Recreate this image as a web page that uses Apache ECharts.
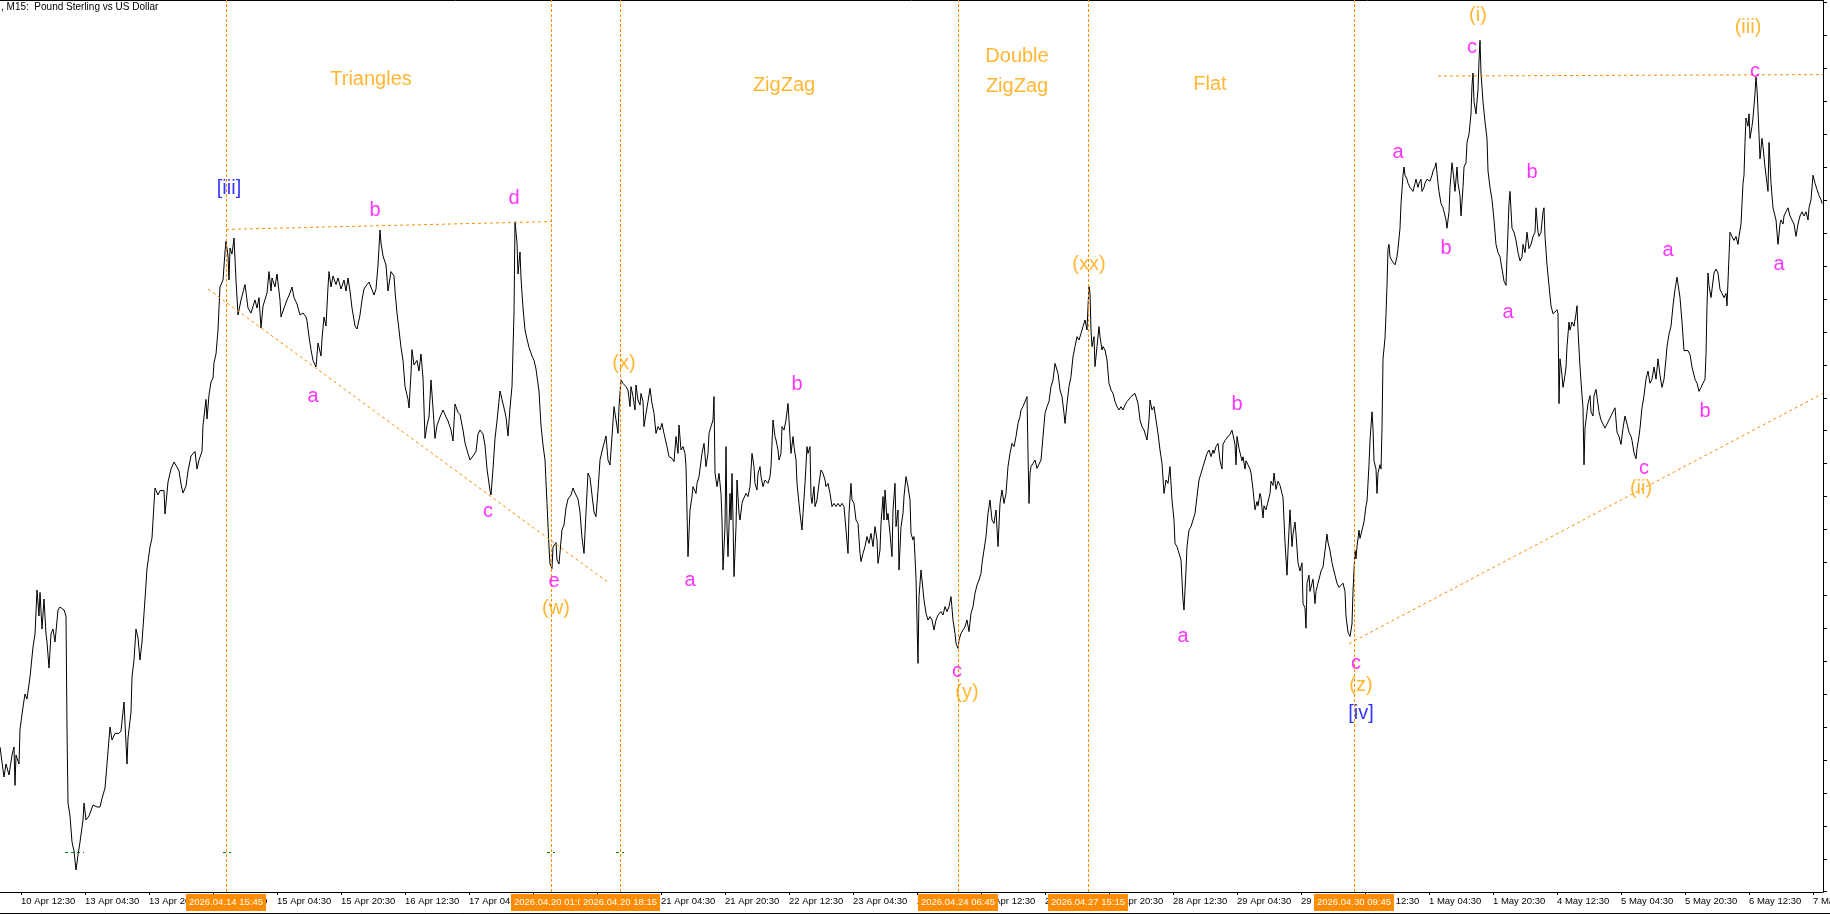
<!DOCTYPE html>
<html>
<head>
<meta charset="utf-8">
<title>GBPUSD M15</title>
<script src="https://cdn.jsdelivr.net/npm/echarts@6.0.0/dist/echarts.min.js"></script>
<style>
  html, body { margin: 0; padding: 0; background: #fff; }
  #chart { width: 1830px; height: 915px; }
</style>
</head>
<body>
<div id="chart"></div>
<script>
// M15 closes, x = bar number from the left edge of the window
const triangleLeg = [
  [0,1.33265],[4,1.33115],[6,1.3318],[9,1.33125],[12,1.33225],[14,1.33265],[15,1.33073],[16,1.33225],[19,1.3318],[20,1.33355],
  [23,1.33465],[25,1.3353],[27,1.33505],[30,1.33615],[33,1.33765],[35,1.3383],[37,1.3405],[39,1.3392],[40,1.34038],[42,1.33855],
  [44,1.34005],[46,1.3383],[47,1.3379],[49,1.3366],[51,1.3383],[53,1.33855],[55,1.3379],[58,1.3395],[60,1.33965],[64,1.3395],
  [66,1.3392],[67,1.33355],[68,1.32985],[70,1.3292],[72,1.3279],[74,1.32745],[76,1.3265],[78,1.32725],[80,1.3279],[83,1.329],
  [84,1.32985],[86,1.329],[89,1.3292],[91,1.3293],[93,1.32975],[97,1.32965],[100,1.32965],[102,1.33008],[105,1.3306],[107,1.3318],
  [110,1.33365],[112,1.333],[115,1.33333],[119,1.33333],[121,1.33345],[124,1.3349],[127,1.3318],[128,1.3331],[131,1.3344],[132,1.33615],
  [134,1.337],[136,1.33855],[138,1.3381],[140,1.337],[142,1.3379],[145,1.34005],[147,1.34157],[150,1.34265],[152,1.3431],[154,1.34482],
  [155,1.3456],[158,1.34525],[160,1.34547],[164,1.34547],[165,1.3443],[168,1.3459],[171,1.34655],[174,1.3469],[177,1.34665],[179,1.34645],
  [181,1.3458],[183,1.34535],[186,1.3457],[188,1.34645],[191,1.3472],[193,1.3473],[195,1.34743],[197,1.34655],[199,1.347],[202,1.34743],
  [203,1.34873],[206,1.35003],[207,1.34905],[209,1.35025],[211,1.3509],[213,1.3511],[214,1.35187],[216,1.3523],[218,1.3535],[219,1.3546],
  [220,1.35565],[223,1.356],[224,1.3559],[225,1.3574],[226,1.35795],[228,1.3572],[229,1.356],[230,1.3576],[232,1.3573],[234,1.3581],
  [236,1.356],[238,1.35425],[241,1.355],[245,1.35577],[248,1.3546],[251,1.35435],[255,1.355],[257,1.3546],[259,1.35512],[261,1.3536],
  [263,1.3547],[267,1.35535],[269,1.35642],[271,1.35545],[272,1.3561],[275,1.35565],[277,1.3563],[280,1.355],[281,1.35415],[284,1.3546],
  [287,1.355],[290,1.35535],[292,1.35565],[294,1.35512],[297,1.3548],[300,1.35425],[303,1.35435],[306,1.35415],[307,1.35395],[309,1.35317],
  [311,1.35252],[313,1.35198],[316,1.35165],[318,1.35285],[321,1.3522],[322,1.35305],[324,1.35415],[326,1.3537],[328,1.35565],[329,1.35642],
  [331,1.35565],[333,1.3562],[336,1.35577],[338,1.3561],[341,1.35555],[344,1.356],[346,1.35545],[348,1.3561],[350,1.35545],[352,1.3546],
  [355,1.3537],[357,1.35355],[360,1.35425],[362,1.355],[364,1.35555],[367,1.35577],[369,1.3559],[371,1.356],[374,1.35525],[376,1.35555],
  [378,1.35675],[380,1.3585],[381,1.35785],[383,1.3572],[386,1.35675],[388,1.35545],[391,1.35642],[394,1.3562],[395,1.35545],[397,1.35435],
  [399,1.3535],[401,1.35263],[403,1.35198],[405,1.35068],[408,1.35003],[409,1.3496],[411,1.35133],[412,1.35252],[414,1.35175],[417,1.35198],
  [419,1.35145],[421,1.3523],[423,1.3511],[425,1.34808],[427,1.34873],[429,1.34915],[431,1.351],[433,1.3496],[435,1.34808],[437,1.34873],
  [440,1.34915],[443,1.3495],[446,1.34915],[448,1.34895],[451,1.3485],[453,1.34795],[455,1.3498],[458,1.34938],[460,1.34927],[463,1.3485],
  [465,1.34785],[468,1.34732],[470,1.347],[473,1.3472],[476,1.34743],[478,1.3483],[480,1.3485],[483,1.3483],[485,1.34775],[487,1.34655],
  [490,1.34547],[491,1.34525],[493,1.34655],[495,1.34808],[497,1.34895],[500,1.35045],[502,1.35003],[504,1.3496],[506,1.34915],[508,1.3482],
  [510,1.3496],[512,1.35068],[514,1.35435],[515,1.35892],[517,1.35785],[518,1.3563],[520,1.3574],[521,1.3561],[523,1.3546],[525,1.3535],
  [527,1.35305],[529,1.35263],[532,1.3522],[534,1.35198],[536,1.35155],[539,1.35045],[541,1.34873],[543,1.34775],[545,1.347],[547,1.34482],
  [549,1.34265],[550,1.3418],[552,1.34157],[553,1.34265],[556,1.34287],[557,1.342],[559,1.3418],[562,1.34352],[564,1.34375],[566,1.3446],
  [568,1.34505],[571,1.34525],[573,1.3456],[575,1.34535],[578,1.34505],[580,1.3444],[582,1.3431],[584,1.34233],[586,1.3444],[588,1.34635],
  [590,1.34612],[592,1.34525],[594,1.3444],[596,1.34417],[598,1.34547],[600,1.347],[603,1.34765],[606,1.3482],[608,1.347]
];

const zigzagLeg = [
  [610,1.34675],[612,1.34817],[614,1.34967],[616,1.349],[618,1.34833],[619,1.34967],[621,1.351],[623,1.35083],[626,1.35067],[628,1.3505],
  [630,1.34967],[631,1.35067],[633,1.35017],[635,1.3495],[636,1.35075],[638,1.35],[640,1.34975],[641,1.35033],[643,1.34992],[644,1.34867],
  [646,1.34933],[648,1.34992],[650,1.35058],[652,1.34983],[654,1.34933],[656,1.34833],[658,1.34867],[660,1.3485],[662,1.34883],[664,1.34833],
  [667,1.34767],[669,1.34717],[672,1.34708],[674,1.34692],[676,1.34817],[678,1.34733],[679,1.34875],[681,1.3475],[683,1.34767],[685,1.34733],
  [686,1.34667],[688,1.34217],[690,1.3445],[692,1.34517],[693,1.34567],[696,1.34533],[697,1.34583],[699,1.34617],[702,1.34733],[704,1.34783],
  [706,1.34667],[708,1.34733],[709,1.34833],[711,1.34867],[713,1.349],[714,1.35017],[715,1.34633],[717,1.34567],[719,1.34633],[721,1.34533],
  [722,1.344],[723,1.3415],[725,1.34367],[726,1.34767],[727,1.34367],[728,1.34217],[730,1.34533],[731,1.344],[732,1.34633],[733,1.344],
  [734,1.34117],[736,1.34367],[737,1.346],[739,1.34433],[740,1.344],[742,1.34483],[743,1.345],[746,1.34533],[748,1.34517],[750,1.34567],
  [752,1.34733],[754,1.34667],[755,1.34583],[757,1.3455],[758,1.34633],[760,1.34667],[761,1.34617],[763,1.34567],[765,1.346],[768,1.34583],
  [770,1.34617],[771,1.34667],[773,1.349],[775,1.34817],[776,1.348],[778,1.3475],[779,1.347],[781,1.34733],[782,1.34867],[784,1.3485],
  [786,1.349],[788,1.34983],[789,1.349],[791,1.34733],[793,1.34817],[794,1.34767],[796,1.347],[797,1.34583],[799,1.34483],[800,1.34433],
  [802,1.3435],[803,1.34433],[805,1.34583],[807,1.34767],[808,1.34733],[810,1.34767],[811,1.34517],[812,1.34483],[814,1.34567],[815,1.34467],
  [817,1.345],[819,1.34583],[821,1.3465],[823,1.34633],[825,1.346],[826,1.34567],[828,1.34583],[830,1.34533],[832,1.34467],[834,1.34483],
  [836,1.34467],[838,1.34483],[840,1.34467],[842,1.34483],[844,1.34467],[846,1.34475],[848,1.34233],[849,1.34433],[851,1.34583],[852,1.345],
  [854,1.34483],[856,1.344],[858,1.34383],[860,1.34233],[861,1.34192],[863,1.34233],[865,1.34267],[867,1.34317],[869,1.34283],[871,1.34333],
  [873,1.34267],[875,1.34367],[877,1.343],[878,1.34183],[880,1.3425],[881,1.34383],[883,1.34517],[884,1.344],[885,1.3455],[887,1.344],
  [888,1.34433],[890,1.34333],[892,1.34217],[893,1.3445],[895,1.34583],[896,1.34367],[898,1.3445],[899,1.3415],[901,1.34367],[903,1.34433],
  [904,1.34517],[906,1.34617],[908,1.34567],[910,1.345],[911,1.34333],[913,1.343],[914,1.34317],[916,1.34108],[918,1.33683],[919,1.34017],
  [921,1.3415],[922,1.341],[924,1.34],[926,1.33933],[928,1.339],[930,1.33917],[932,1.339],[934,1.3385],[936,1.339],[938,1.33925],
  [940,1.33917],[941,1.33942],[943,1.33925],[945,1.33967],[947,1.33942],[949,1.33967],[951,1.34017],[953,1.339],[955,1.33833],[956,1.33783],
  [958,1.33758],[959,1.338],[961,1.33833],[963,1.3385],[965,1.33867],[967,1.339],[969,1.33842],[971,1.33933],[973,1.33967],[975,1.34033],
  [977,1.34075],[979,1.341],[981,1.34133],[982,1.34183],[984,1.3425],[986,1.34317],[988,1.34433],[990,1.345],[992,1.344],[994,1.34383],
  [996,1.3445],[998,1.34267],[1000,1.34483],[1002,1.3455],[1004,1.34483],[1006,1.34533],[1008,1.34667],[1010,1.34733],[1012,1.34783],[1014,1.34767],
  [1016,1.34817],[1018,1.34883],[1020,1.34917],[1021,1.3495],[1023,1.34967],[1025,1.34992],[1027,1.35017],[1028,1.34733],[1029,1.34483],[1030,1.34633],
  [1031,1.34667],[1033,1.34683],[1035,1.347],[1037,1.34658],[1039,1.34667],[1041,1.347],[1043,1.34817],[1045,1.34933],[1047,1.34967],[1049,1.34992],
  [1051,1.35067],[1053,1.351],[1055,1.35183],[1057,1.3515],[1058,1.35133],[1060,1.3505],[1062,1.35017],[1064,1.34933],[1065,1.34883],[1067,1.34983],
  [1069,1.35067],[1071,1.35117],[1073,1.35217],[1075,1.35267],[1077,1.35317],[1079,1.353],[1081,1.35333],[1083,1.35367],[1085,1.354],[1087,1.3535],
  [1088,1.35467],[1089,1.35567],[1090,1.35533],[1091,1.3535],[1092,1.35267],[1094,1.35317],[1095,1.35167],[1097,1.35267],[1099,1.35367],[1100,1.35317],
  [1102,1.3525],[1103,1.35267],[1105,1.3525],[1107,1.352],[1109,1.35083],[1111,1.3505],[1113,1.35033],[1115,1.34992],[1117,1.34967],[1119,1.3495],
  [1121,1.34967],[1123,1.3495],[1125,1.34975],[1127,1.34992],[1129,1.35],[1131,1.35017],[1133,1.35008],[1135,1.35033],[1137,1.35042],[1138,1.34983],
  [1140,1.349],[1142,1.34867],[1144,1.3485],[1146,1.34817],[1147,1.348],[1149,1.349],[1150,1.35],[1152,1.3495],[1154,1.34967],[1156,1.349],
  [1158,1.34833],[1160,1.3475],[1162,1.34683],[1164,1.34533],[1166,1.346],[1168,1.34583],[1170,1.34667],[1172,1.345],[1174,1.344],[1175,1.34283],
  [1177,1.34267],[1179,1.34233],[1181,1.342],[1183,1.34],[1184,1.3395],[1186,1.3415],[1187,1.34267],[1189,1.3435],[1191,1.34367],[1193,1.344],
  [1195,1.34433],[1197,1.34517],[1199,1.346],[1201,1.34633],[1203,1.34667],[1205,1.34667],[1207,1.34733],[1209,1.3475],[1211,1.34717],[1213,1.3475],
  [1214,1.34733],[1216,1.34767],[1218,1.34783]
];

const impulseLeg = [
  [1220,1.34696],[1222,1.34655],[1223,1.34778],[1225,1.34798],[1227,1.34808],[1230,1.34829],[1232,1.34849],[1234,1.34839],[1235,1.34778],[1236,1.34676],
  [1237,1.34818],[1239,1.34757],[1240,1.34737],[1242,1.34696],[1243,1.34716],[1245,1.34655],[1246,1.34696],[1248,1.34676],[1250,1.34655],[1251,1.34635],
  [1253,1.34553],[1255,1.34451],[1257,1.34492],[1258,1.34471],[1260,1.34533],[1261,1.34512],[1263,1.3441],[1264,1.34471],[1266,1.34451],[1268,1.34461],
  [1270,1.34533],[1271,1.34594],[1273,1.34573],[1274,1.34635],[1276,1.34553],[1278,1.34594],[1280,1.34573],[1282,1.34533],[1283,1.34512],[1285,1.34288],
  [1287,1.34124],[1288,1.34247],[1290,1.34451],[1292,1.34267],[1293,1.34329],[1295,1.3439],[1296,1.34329],[1298,1.34186],[1300,1.34145],[1302,1.34186],
  [1303,1.33982],[1305,1.33961],[1306,1.33859],[1307,1.34084],[1309,1.34124],[1310,1.34043],[1312,1.34084],[1313,1.34104],[1315,1.33982],[1316,1.34043],
  [1318,1.34084],[1320,1.34124],[1321,1.34145],[1323,1.34165],[1325,1.34247],[1327,1.34329],[1328,1.34288],[1330,1.34247],[1332,1.34186],[1333,1.34165],
  [1335,1.34124],[1337,1.34084],[1339,1.34063],[1341,1.34063],[1343,1.34084],[1345,1.34043],[1346,1.3392],[1348,1.33839],[1350,1.33818],[1352,1.3388],
  [1353,1.34043],[1355,1.34247],[1356,1.34206],[1357,1.34267],[1359,1.34349],[1360,1.34308],[1362,1.34349],[1364,1.3439],[1366,1.34471],[1367,1.34492],
  [1369,1.34676],[1370,1.34798],[1372,1.34941],[1373,1.34859],[1374,1.34696],[1376,1.34655],[1377,1.34533],[1378,1.34635],[1380,1.34676],[1381,1.34655],
  [1382,1.34859],[1383,1.35206],[1385,1.35308],[1386,1.35431],[1387,1.35573],[1388,1.35757],[1389,1.35778],[1390,1.35716],[1392,1.35696],[1394,1.35696],
  [1395,1.35676],[1397,1.35716],[1398,1.35757],[1400,1.35859],[1401,1.35982],[1403,1.36124],[1404,1.36165],[1405,1.36124],[1407,1.36104],[1408,1.36084],
  [1410,1.36063],[1411,1.36063],[1413,1.36043],[1415,1.36084],[1416,1.36104],[1418,1.36063],[1419,1.36084],[1421,1.36104],[1422,1.36043],[1424,1.36063],
  [1425,1.36084],[1427,1.36104],[1429,1.36114],[1430,1.36094],[1432,1.36124],[1433,1.36145],[1435,1.36165],[1436,1.36186],[1438,1.36084],[1439,1.36043],
  [1441,1.35982],[1443,1.35961],[1444,1.35941],[1446,1.359],[1447,1.35859],[1449,1.35941],[1450,1.36063],[1452,1.36186],[1453,1.36145],[1455,1.36043],
  [1457,1.36165],[1458,1.36084],[1460,1.36022],[1461,1.3592],[1463,1.36063],[1464,1.36165],[1466,1.36186],[1467,1.36288],[1469,1.36329],[1471,1.36431],
  [1472,1.36573],[1473,1.36635],[1474,1.36492],[1476,1.36431],[1478,1.36553],[1479,1.36696],[1480,1.36798],[1481,1.36635],[1483,1.36492],[1485,1.3639],
  [1487,1.36308],[1488,1.36145],[1490,1.36063],[1492,1.36002],[1494,1.359],[1496,1.35778],[1498,1.35737],[1500,1.35716],[1502,1.35655],[1504,1.35594],
  [1506,1.35573],[1507,1.35716],[1509,1.35982],[1510,1.36043],[1512,1.35859],[1514,1.35839],[1516,1.35798],[1518,1.35737],[1520,1.35696],[1522,1.35716],
  [1523,1.35778],[1525,1.35737],[1527,1.35839],[1529,1.35757],[1531,1.35778],[1533,1.35818],[1535,1.35839],[1536,1.35961],[1538,1.35839],[1539,1.35818],
  [1541,1.35839],[1543,1.35941],[1544,1.35961],[1545,1.35818],[1547,1.35676],[1549,1.35573],[1551,1.35471],[1553,1.35431],[1555,1.35431],[1557,1.35451],
  [1558,1.35431],[1559,1.34982],[1560,1.35206],[1562,1.35124],[1563,1.35063],[1565,1.35124],[1566,1.35165],[1567,1.35267],[1569,1.3539],[1570,1.35349],
  [1572,1.3539],[1574,1.35369],[1576,1.35431],[1577,1.35471],[1578,1.35349],[1580,1.35165],[1582,1.35022],[1583,1.34961],[1584,1.34676],[1585,1.34859],
  [1587,1.34941],[1588,1.34982],[1590,1.35022],[1591,1.34941],[1593,1.3492],[1594,1.35022],[1596,1.35053],[1597,1.35043],[1599,1.34941],[1601,1.349],
  [1603,1.3488],[1605,1.34859],[1607,1.3488],[1609,1.349],[1611,1.3492],[1613,1.34941],[1615,1.34961],[1617,1.34839],[1619,1.34818],[1621,1.34778],
  [1623,1.34859],[1625,1.3492],[1627,1.3488],[1629,1.34839],[1631,1.34818],[1632,1.34798],[1634,1.34737],[1636,1.34706],[1637,1.34757],[1639,1.34818],
  [1640,1.34859],[1642,1.34961],[1644,1.35022],[1646,1.35104],[1648,1.35145],[1650,1.35084],[1652,1.35104],[1654,1.35165],[1656,1.35104],[1658,1.35206],
  [1660,1.35124],[1662,1.35063],[1664,1.35104],[1666,1.35206],[1667,1.35267],[1669,1.35329],[1671,1.35369],[1673,1.35471],[1675,1.35553],[1677,1.35614],
  [1678,1.35624],[1680,1.35512],[1682,1.3539],[1684,1.35247],[1686,1.35237],[1688,1.35247],[1690,1.35227],[1692,1.35165],[1694,1.35124],[1695,1.35104],
  [1697,1.35084],[1699,1.35043],[1701,1.35063],[1703,1.35084],[1705,1.35104],[1706,1.35227],[1707,1.35471],[1708,1.35635],[1709,1.35573],[1711,1.35512],
  [1713,1.35512],[1714,1.35635],[1716,1.35655],[1718,1.35635],[1720,1.35553],[1722,1.35533],[1724,1.35512],[1726,1.35533],[1727,1.35471],[1728,1.35594],
  [1730,1.35839],[1732,1.35818],[1734,1.35798],[1736,1.35818],[1738,1.35778],[1739,1.35818],[1741,1.3588],[1742,1.35982],[1743,1.36084],[1744,1.36124],
  [1745,1.36288],[1746,1.3641],[1748,1.36369],[1749,1.36431],[1750,1.36308],[1752,1.36369],[1753,1.3641],[1755,1.36533],[1756,1.36614],[1757,1.36553],
  [1758,1.36451],[1759,1.36329],[1760,1.36206],[1762,1.36308],[1763,1.36267],[1765,1.36165],[1766,1.36124],[1768,1.36043],[1769,1.36288],[1771,1.36084],
  [1772,1.36022],[1773,1.35961],[1774,1.35941],[1776,1.359],[1778,1.35778],[1780,1.3588],[1781,1.359],[1783,1.3588],[1784,1.3592],[1786,1.35941],
  [1788,1.35961],[1790,1.3592],[1792,1.359],[1794,1.3588],[1796,1.35818],[1798,1.3588],[1800,1.3592],[1802,1.35941],[1804,1.3592],[1806,1.35941],
  [1808,1.359],[1809,1.35961],[1811,1.36002],[1813,1.36124],[1815,1.36084],[1817,1.36084],[1819,1.36022],[1821,1.36002],[1822,1.35982]
];

// time scale
const timeTickBars = [21,85,149,213,277,341,405,469,533,597,661,725,789,853,917,981,1045,1109,1173,1237,1301,1365,1429,1493,1557,1621,1685,1749,1813];
const timeTickLabels = ['10 Apr 12:30','13 Apr 04:30','13 Apr 20:30','14 Apr 12:30','15 Apr 04:30','15 Apr 20:30','16 Apr 12:30','17 Apr 04:30',
  '17 Apr 20:30','20 Apr 12:30','21 Apr 04:30','21 Apr 20:30','22 Apr 12:30','23 Apr 04:30','23 Apr 20:30','24 Apr 12:30','27 Apr 04:30',
  '27 Apr 20:30','28 Apr 12:30','29 Apr 04:30','29 Apr 20:30','30 Apr 12:30','1 May 04:30','1 May 20:30','4 May 12:30','5 May 04:30',
  '5 May 20:30','6 May 12:30','7 May 04:30'];
const markerBars = [226,551,620,958,1088,1354];
const markerTimes = ['2026.04.14 15:45','2026.04.20 01:00','2026.04.20 18:15','2026.04.24 06:45','2026.04.27 15:15','2026.04.30 09:45'];
// price scale ticks (labels are cut off in the window)
const priceTicks = [1.36987,1.36822,1.36658,1.36493,1.36328,1.36164,1.35999,1.35834,1.3567,1.35505,1.35341,1.35176,1.35011,1.34847,
  1.34682,1.34517,1.34353,1.34188,1.34023,1.33859,1.33694,1.33529,1.33365,1.332,1.33035,1.32871,1.32706,1.32542];

// drawn lines [start, end] as [bar, price]
const trendLines = [
  [[226,1.35853],[551,1.35892]],
  [[208,1.35555],[607,1.34092]],
  [[1438,1.3662],[1823,1.36627]],
  [[1349,1.33782],[1823,1.35033]]
];
const greenMarks = [
  [[65,1.3274],[84,1.3274]],
  [[223,1.3274],[231,1.3274]],
  [[547,1.3274],[555,1.3274]],
  [[616,1.3274],[624,1.3274]]
];

// wave labels [bar, price, text]
const minorLabels = [
  [375,1.3595,'b'],[514,1.3601,'d'],[313,1.3502,'a'],[488,1.34445,'c'],[554,1.34095,'e'],
  [690,1.341,'a'],[797,1.3508,'b'],[957,1.33645,'c'],
  [1183,1.3382,'a'],[1237,1.3498,'b'],[1356,1.33685,'c'],
  [1398,1.3624,'a'],[1446,1.3576,'b'],[1472,1.36765,'c'],
  [1508,1.3544,'a'],[1532,1.3614,'b'],[1644,1.3466,'c'],
  [1668,1.3575,'a'],[1705,1.34945,'b'],[1755,1.36645,'c'],[1779,1.3568,'a']
];
const minuteLabels = [
  [556,1.3396,'(w)'],[624,1.35185,'(x)'],[967,1.3354,'(y)'],[1089,1.3568,'(xx)'],[1361,1.33575,'(z)'],
  [1478,1.36925,'(i)'],[1641,1.3456,'(ii)'],[1748,1.36865,'(iii)']
];
const minorDegreeLabels = [[229,1.3606,'[iii]'],[1361,1.33435,'[iv]']];
const patternNames = [
  [371,1.36605,'Triangles'],[784,1.36575,'ZigZag'],[1017,1.3672,'Double'],[1017,1.3657,'ZigZag'],[1210,1.3658,'Flat']
];

const ORANGE = '#FF8C00';
const LABEL_ORANGE = '#FFA500';
const FONT = 'Liberation Sans';

function labelSeries(list, color, size) {
  return {
    type: 'scatter',
    symbolSize: 1,
    itemStyle: { color: 'rgba(0,0,0,0)' },
    silent: true,
    z: 5,
    label: {
      show: true,
      position: 'inside',
      color: color,
      fontFamily: FONT,
      fontSize: size,
      align: 'center',
      verticalAlign: 'middle'
    },
    data: list.map(([b, p, t]) => ({ value: [b, p], label: { formatter: t } }))
  };
}

const markLines = [];
markerBars.forEach(b => markLines.push({ xAxis: b, lineStyle: { color: ORANGE, type: [3, 2], width: 1 } }));
trendLines.forEach(([a, b]) => markLines.push([
  { coord: a, lineStyle: { color: ORANGE, type: [3, 3], width: 1 } },
  { coord: b }
]));
greenMarks.forEach(([a, b]) => markLines.push([
  { coord: a, lineStyle: { color: '#008000', type: [3, 3], width: 1 } },
  { coord: b }
]));

const chart = echarts.init(document.getElementById('chart'));
chart.setOption({
  animation: false,
  backgroundColor: '#ffffff',
  title: {
    text: ', M15:  Pound Sterling vs US Dollar',
    left: 1, top: 2, padding: 0,
    textStyle: { fontFamily: FONT, fontSize: 10, fontWeight: 'normal', color: '#000' }
  },
  grid: { left: 0, right: 7, top: 0, bottom: 23, containLabel: false, outerBoundsMode: 'none' },
  xAxis: [
    {
      type: 'value', min: 0, max: 1823, position: 'bottom',
      splitLine: { show: false },
      axisLine: { onZero: false, lineStyle: { color: '#000', width: 1 } },
      axisTick: { show: true, customValues: timeTickBars, length: 3, lineStyle: { color: '#000' } },
      axisLabel: {
        customValues: timeTickBars,
        formatter: v => timeTickLabels[timeTickBars.indexOf(v)] || '',
        align: 'left', margin: 4, color: '#000', fontFamily: FONT, fontSize: 9.5
      }
    },
    {
      type: 'value', min: 0, max: 1823, position: 'bottom', z: 5,
      splitLine: { show: false },
      axisLine: { show: false, onZero: false },
      axisTick: { show: false },
      axisLabel: {
        customValues: markerBars,
        formatter: v => markerTimes[markerBars.indexOf(v)] || '',
        align: 'center', margin: 2, color: '#fff', fontFamily: FONT, fontSize: 9.5,
        backgroundColor: ORANGE, padding: [3, 3, 4, 3]
      }
    },
    {
      type: 'value', min: 0, max: 1823, position: 'top',
      splitLine: { show: false },
      axisLine: { onZero: false, lineStyle: { color: '#000', width: 1 } },
      axisTick: { show: false },
      axisLabel: { show: false }
    }
  ],
  yAxis: {
    type: 'value', position: 'right', min: 1.3254, max: 1.37,
    splitLine: { show: false },
    axisLine: { show: true, onZero: false, lineStyle: { color: '#000', width: 1 } },
    axisTick: { show: true, inside: false, customValues: priceTicks, length: 4, lineStyle: { color: '#000' } },
    axisLabel: { show: false }
  },
  graphic: [
    { type: 'line', shape: { x1: 0, y1: 913.5, x2: 1830, y2: 913.5 }, style: { stroke: '#000', lineWidth: 1 } }
  ],
  series: [
    {
      type: 'line',
      data: triangleLeg.concat(zigzagLeg, impulseLeg),
      showSymbol: false,
      lineStyle: { color: '#000', width: 1 },
      z: 3,
      markLine: {
        silent: true,
        symbol: ['none', 'none'],
        label: { show: false },
        data: markLines
      }
    },
    labelSeries(minorLabels, '#FF00FF', 20),
    labelSeries(minuteLabels, LABEL_ORANGE, 20),
    labelSeries(minorDegreeLabels, '#0000FF', 20),
    labelSeries(patternNames, LABEL_ORANGE, 20)
  ]
});
</script>
</body>
</html>
